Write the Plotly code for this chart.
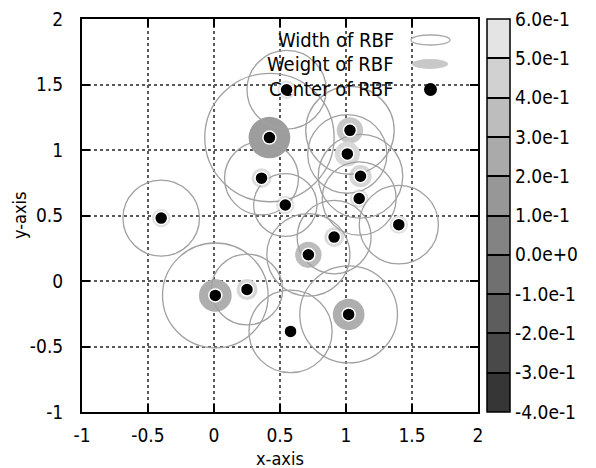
import plotly.graph_objects as go

# ---- data ----
center_x = [0.55, 0.42, 1.03, 1.01, 0.36, 1.11, 1.10, 0.54, -0.40, 1.40, 0.91, 0.715, 0.25, 0.01, 1.02, 0.58]
center_y = [1.46, 1.095, 1.15, 0.97, 0.785, 0.80, 0.63, 0.58, 0.48, 0.43, 0.335, 0.20, -0.065, -0.11, -0.255, -0.385]
width_r = [0.30, 0.49, 0.335, 0.30, 0.28, 0.32, 0.28, 0.24, 0.29, 0.30, 0.28, 0.315, 0.27, 0.40, 0.37, 0.315]
weight = [0.58, 0.19, 0.44, 0.53, 0.56, 0.52, 0.57, 0.58, 0.58, 0.58, 0.54, 0.37, 0.52, 0.29, 0.29, 0.60]
weight_r = [0.07, 0.158, 0.10, 0.095, 0.075, 0.085, 0.07, 0.07, 0.07, 0.07, 0.075, 0.10, 0.08, 0.124, 0.12, 0.0]

cb_vals = [0.6, 0.5, 0.4, 0.3, 0.2, 0.1, 0.0, -0.1, -0.2, -0.3, -0.4]
cb_text = ["6.0e-1", "5.0e-1", "4.0e-1", "3.0e-1", "2.0e-1", "1.0e-1", "0.0e+0",
           "-1.0e-1", "-2.0e-1", "-3.0e-1", "-4.0e-1"]
x_ticks = [-1, -0.5, 0, 0.5, 1, 1.5, 2]
y_ticks = [-1, -0.5, 0, 0.5, 1, 1.5, 2]
legend_labels = ["Width of RBF", "Weight of RBF", "Center of RBF"]
x_title = "x-axis"
y_title = "y-axis"

CMIN, CMAX = -0.4, 0.6
FONT = "DejaVu Sans Condensed, DejaVu Sans, sans-serif"
FS = 20
TFS = 19

# page has an 8px body margin: build the figure 8px smaller and shift
OFF = 8
W, H = 596 - OFF, 468 - OFF
# plot area in (page) pixels
L, R, T, B = 82, 478, 19, 412

# gray palette
LO, HI = 54, 228
def gray(t):
    g = int(round(LO + (HI - LO) * t))
    return f"rgb({g},{g},{g})"

n = 10
scale = []
for i in range(n):
    c = gray(i / (n - 1))
    scale.append([i / n, c])
    scale.append([(i + 1) / n, c])

def px2pap(px, py):
    return (px - L) / (R - L), (B - py) / (B - T)

fig = go.Figure()

shapes = []
# weight circles (filled, colour from palette)
for x, y, w, r in zip(center_x, center_y, weight, weight_r):
    if r <= 0:
        continue
    t = (min(max(w, CMIN), CMAX) - CMIN) / (CMAX - CMIN)
    shapes.append(dict(type="circle", xref="x", yref="y", x0=x - r, x1=x + r, y0=y - r, y1=y + r,
                       fillcolor=gray(t), line=dict(width=0), layer="between"))
# width circles
for x, y, r in zip(center_x, center_y, width_r):
    shapes.append(dict(type="circle", xref="x", yref="y", x0=x - r, x1=x + r, y0=y - r, y1=y + r,
                       line=dict(color="rgb(160,160,160)", width=1.3), layer="between"))

# colour bar carrier (invisible)
cbx, _ = px2pap(487, 0)
fig.add_trace(go.Scatter(
    x=[None], y=[None], mode="markers", showlegend=False, hoverinfo="skip",
    marker=dict(color=[0], cmin=CMIN, cmax=CMAX, colorscale=scale, showscale=True,
                colorbar=dict(x=cbx, xanchor="left", xpad=0, y=0.5, yanchor="middle",
                              ypad=0, len=1.0, lenmode="fraction", thickness=23, thicknessmode="pixels",
                              outlinewidth=1.5, outlinecolor="black",
                              tickvals=cb_vals, ticktext=cb_text, ticks="inside", ticklen=23,
                              tickwidth=1.5, tickcolor="black", ticklabeloverflow="allow",
                              tickfont=dict(size=TFS, color="black", family=FONT)))))

# centers
fig.add_trace(go.Scatter(x=center_x, y=center_y, mode="markers", showlegend=False,
                         marker=dict(color="black", size=13, line=dict(width=1.5, color="white"))))

# manual gnuplot-like key (text right aligned, sample on the right)
key_y = [40, 64, 89]
for lab, py in zip(legend_labels, key_y):
    ax, ay = px2pap(396, py)
    fig.add_annotation(xref="paper", yref="paper", x=ax, y=ay,
                       text=lab, showarrow=False, xanchor="right", yanchor="middle",
                       font=dict(size=FS, color="black", family=FONT))
ax0, ay0 = px2pap(411, 45)
ax1, ay1 = px2pap(450, 35)
shapes.append(dict(type="circle", xref="paper", yref="paper", x0=ax0, x1=ax1, y0=ay0, y1=ay1,
                   line=dict(color="rgb(170,170,170)", width=1.3), fillcolor="white"))
ax0, ay0 = px2pap(412, 69)
ax1, ay1 = px2pap(448, 59)
shapes.append(dict(type="circle", xref="paper", yref="paper", x0=ax0, x1=ax1, y0=ay0, y1=ay1,
                   line=dict(width=0), fillcolor="rgb(200,200,200)"))
ax0, ay0 = px2pap(424, 96)
ax1, ay1 = px2pap(437, 83)
shapes.append(dict(type="circle", xref="paper", yref="paper", x0=ax0, x1=ax1, y0=ay0, y1=ay1,
                   line=dict(width=0), fillcolor="black"))

# axis titles
ax, ay = px2pap(280, 458)
fig.add_annotation(xref="paper", yref="paper", x=ax, y=ay, text=x_title, showarrow=False,
                   xanchor="center", yanchor="middle", borderpad=0,
                   font=dict(size=FS - 2, color="black", family=FONT))
ax, ay = px2pap(19, 215)
fig.add_annotation(xref="paper", yref="paper", x=ax, y=ay, text=y_title, showarrow=False,
                   textangle=-90, xanchor="center", yanchor="middle", borderpad=0,
                   font=dict(size=FS - 2, color="black", family=FONT))

axis_common = dict(showline=True, linecolor="black", linewidth=2, mirror="ticks",
                   ticks="inside", ticklen=8, tickwidth=2, tickcolor="black", automargin=False,
                   showgrid=True, gridcolor="rgb(90,90,90)", griddash="dot", gridwidth=1.5,
                   zeroline=False, ticklabeloverflow="allow",
                   tickfont=dict(size=TFS, color="black", family=FONT))

fig.update_layout(
    width=W, height=H,
    margin=dict(l=L - OFF, r=596 - R, t=T - OFF, b=468 - B, autoexpand=False),
    plot_bgcolor="white", paper_bgcolor="white",
    shapes=shapes,
    xaxis=dict(range=[-1, 2], tickvals=x_ticks, ticktext=[str(v) for v in x_ticks],
               ticklabelstandoff=5, **axis_common),
    yaxis=dict(range=[-1, 2], tickvals=y_ticks, ticktext=[str(v) for v in y_ticks],
               ticklabelstandoff=13, **axis_common),
)

fig.write_html("out.html")
